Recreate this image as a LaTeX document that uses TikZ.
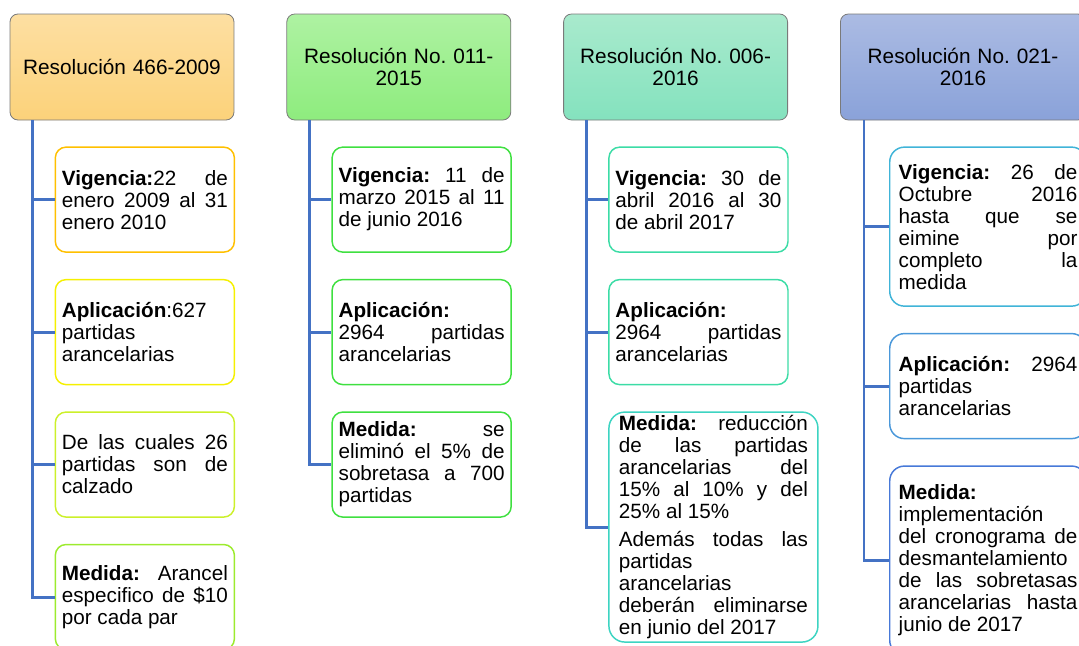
\documentclass[tikz,border=0pt]{standalone}
\usepackage{fontspec}
\setmainfont{Liberation Sans}
\usepackage{xcolor}
\usepackage{tikz}
\usetikzlibrary{positioning}

\hbadness=10000
\frenchspacing

\definecolor{linkblue}{HTML}{4472C4}
\definecolor{hdrgray}{HTML}{7A7A7A}
\definecolor{orangetop}{HTML}{FDDFA2}
\definecolor{orangebot}{HTML}{FCD27A}
\definecolor{greentop}{HTML}{AEF2A2}
\definecolor{greenbot}{HTML}{8EEC7E}
\definecolor{minttop}{HTML}{A9EACD}
\definecolor{mintbot}{HTML}{84E2BE}
\definecolor{bluetop}{HTML}{ABBBE3}
\definecolor{bluebot}{HTML}{8AA2D9}
\definecolor{edgeA}{HTML}{FFC000}
\definecolor{edgeB}{HTML}{F5F000}
\definecolor{edgeC}{HTML}{CCF02A}
\definecolor{edgeD}{HTML}{9CEB2E}
\definecolor{edgeE}{HTML}{3FE040}
\definecolor{edgeF}{HTML}{3CDCA6}
\definecolor{edgeG}{HTML}{3DD4C2}
\definecolor{edgeH}{HTML}{40B4D8}
\definecolor{edgeI}{HTML}{4A98DA}
\definecolor{edgeJ}{HTML}{4779D8}

\begin{document}
\begin{tikzpicture}[
        node distance=19.5pt and 39pt,
        header/.style={rectangle, draw=hdrgray, line width=0.6pt, rounded corners=6pt, minimum width=168pt, minimum height=79.5pt, text width=160pt, inner xsep=4pt, align=center, font=\fontsize{15.6}{16.5}\selectfont},
        item/.style={rectangle, draw, fill=white, line width=1.1pt, rounded corners=8pt, text width=124.5pt, inner xsep=4.9pt, inner ysep=1pt, minimum height=78.75pt, align=justify, font=\fontsize{15.5}{16.5}\selectfont},
        wideitem/.style={item, text width=141.75pt, inner xsep=7.5pt, rounded corners=12pt},
        lastitem/.style={item, text width=134pt, inner xsep=6.75pt, rounded corners=11pt},
        link/.style={draw=linkblue, line width=2.2pt}
      ]
        \useasboundingbox (0,0) rectangle (809.25pt,-484.5pt);

        % Headers
        \node[header, top color=orangetop, bottom color=orangebot] (h1) at (91.5pt,-50.25pt) {Resolución 466-2009};
        \node[header, top color=greentop, bottom color=greenbot, right=of h1] (h2) {Resolución No. 011-\\2015};
        \node[header, top color=minttop, bottom color=mintbot, right=of h2] (h3) {Resolución No. 006-\\2016};
        \node[header, top color=bluetop, bottom color=bluebot, text width=176pt, right=of h3] (h4) {Resolución No. 021-\\2016};

        % Resolucion 466-2009
        \node[item, draw=edgeA, below=of h1.south west, anchor=north west, xshift=33.75pt] (v1) {\textbf{Vigencia:}22 de\linebreak enero 2009 al 31\linebreak enero 2010};
        \node[item, draw=edgeB, below=of v1] (a1) {\textbf{Aplicación}:627\linebreak partidas\linebreak arancelarias};
        \node[item, draw=edgeC, below=of a1] (p1) {De las cuales 26\linebreak partidas son de\linebreak calzado};
        \node[item, draw=edgeD, below=of p1] (m1) {\textbf{Medida:} Arancel\linebreak especifico de \$10\linebreak por cada par};

        % Resolucion 011-2015
        \node[item, draw=edgeE, below=of h2.south west, anchor=north west, xshift=33.75pt] (v2) {\textbf{Vigencia:} 11 de\linebreak marzo 2015 al 11\linebreak de junio 2016};
        \node[item, draw=edgeE, below=of v2] (a2) {\textbf{Aplicación:}\linebreak 2964 partidas\linebreak arancelarias};
        \node[item, draw=edgeE, below=of a2] (m2) {\textbf{Medida:} se\linebreak eliminó el 5\% de\linebreak sobretasa a 700\linebreak partidas};

        % Resolucion 006-2016
        \node[item, draw=edgeF, below=of h3.south west, anchor=north west, xshift=33.75pt] (v3) {\textbf{Vigencia:} 30 de\linebreak abril 2016 al 30\linebreak de abril 2017};
        \node[item, draw=edgeF, below=of v3] (a3) {\textbf{Aplicación:}\linebreak 2964 partidas\linebreak arancelarias};
        \node[wideitem, draw=edgeG, minimum height=172.5pt, below=of a3.south west, anchor=north west] (m3) {\textbf{Medida:} reducción\linebreak de las partidas\linebreak arancelarias del\linebreak 15\% al 10\% y del\linebreak 25\% al 15\%\par\vspace{5pt}Además todas las\linebreak partidas\linebreak arancelarias\linebreak deberán eliminarse\linebreak en junio del 2017};

        % Resolucion 021-2016
        \node[lastitem, draw=edgeH, minimum height=119.25pt, below=of h4.south west, anchor=north west, xshift=36.75pt] (v4) {\textbf{Vigencia:} 26 de\linebreak Octubre 2016\linebreak hasta que se\linebreak eimine por\linebreak completo la\linebreak medida};
        \node[lastitem, draw=edgeI, below=of v4] (a4) {\textbf{Aplicación:} 2964\linebreak partidas\linebreak arancelarias};
        \node[lastitem, draw=edgeJ, minimum height=141.75pt, below=of a4] (m4) {\textbf{Medida:}\linebreak implementación\linebreak del cronograma de\linebreak desmantelamiento\linebreak de las sobretasas\linebreak arancelarias hasta\linebreak junio de 2017};

        % Links
        \draw[link] ([xshift=17.25pt]h1.south west) |- (v1.west);
        \draw[link] ([xshift=17.25pt]h1.south west) |- (a1.west);
        \draw[link] ([xshift=17.25pt]h1.south west) |- (p1.west);
        \draw[link] ([xshift=17.25pt]h1.south west) |- (m1.west);
        \draw[link] ([xshift=17.25pt]h2.south west) |- (v2.west);
        \draw[link] ([xshift=17.25pt]h2.south west) |- (a2.west);
        \draw[link] ([xshift=17.25pt]h2.south west) |- (m2.west);
        \draw[link] ([xshift=17.25pt]h3.south west) |- (v3.west);
        \draw[link] ([xshift=17.25pt]h3.south west) |- (a3.west);
        \draw[link] ([xshift=17.25pt]h3.south west) |- (m3.west);
        \draw[link] ([xshift=18pt]h4.south west) |- (v4.west);
        \draw[link] ([xshift=18pt]h4.south west) |- (a4.west);
        \draw[link] ([xshift=18pt]h4.south west) |- (m4.west);
      \end{tikzpicture}
\end{document}
